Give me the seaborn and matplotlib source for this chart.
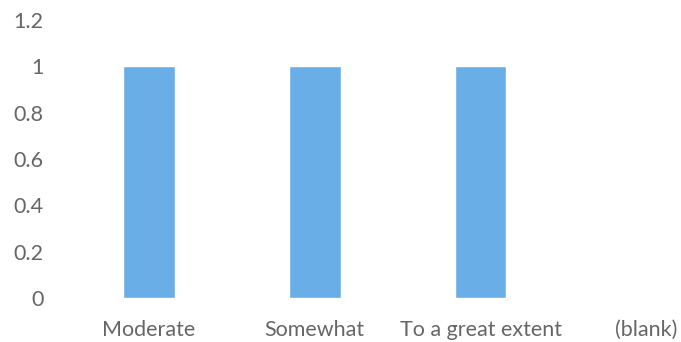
import matplotlib
matplotlib.use("Agg")
import matplotlib.pyplot as plt
import seaborn as sns
import pandas as pd

categories = ["Moderate", "Somewhat", "To a great extent", "(blank)"]
values = [1, 1, 1, 0]
y_ticks = [0, 0.2, 0.4, 0.6, 0.8, 1, 1.2]
y_tick_labels = ["0", "0.2", "0.4", "0.6", "0.8", "1", "1.2"]

sns.set_style("white")
plt.rcParams["font.family"] = ["Lato", "DejaVu Sans"]

df = pd.DataFrame({"category": categories, "value": values})

fig = plt.figure(figsize=(6.81, 3.42), dpi=100)
ax = fig.add_axes([66 / 681, 44 / 342, (681 - 66) / 681, (298 - 20) / 342])
sns.barplot(data=df, x="category", y="value", color="#6aaee8", width=0.31,
            saturation=1, ax=ax)

ax.set_xlim(-0.5, (681 - 148.5) / 166)
ax.set_ylim(0, 1.2)
ax.set_yticks(y_ticks)
ax.set_yticklabels(y_tick_labels)
ax.set_xlabel("")
ax.set_ylabel("")
ax.tick_params(axis="both", length=0, labelsize=15.5, colors="#666666")
ax.tick_params(axis="y", pad=16)
ax.tick_params(axis="x", pad=16)
sns.despine(ax=ax, left=True, bottom=True)

fig.savefig("out.png", dpi=100)
plt.close(fig)
